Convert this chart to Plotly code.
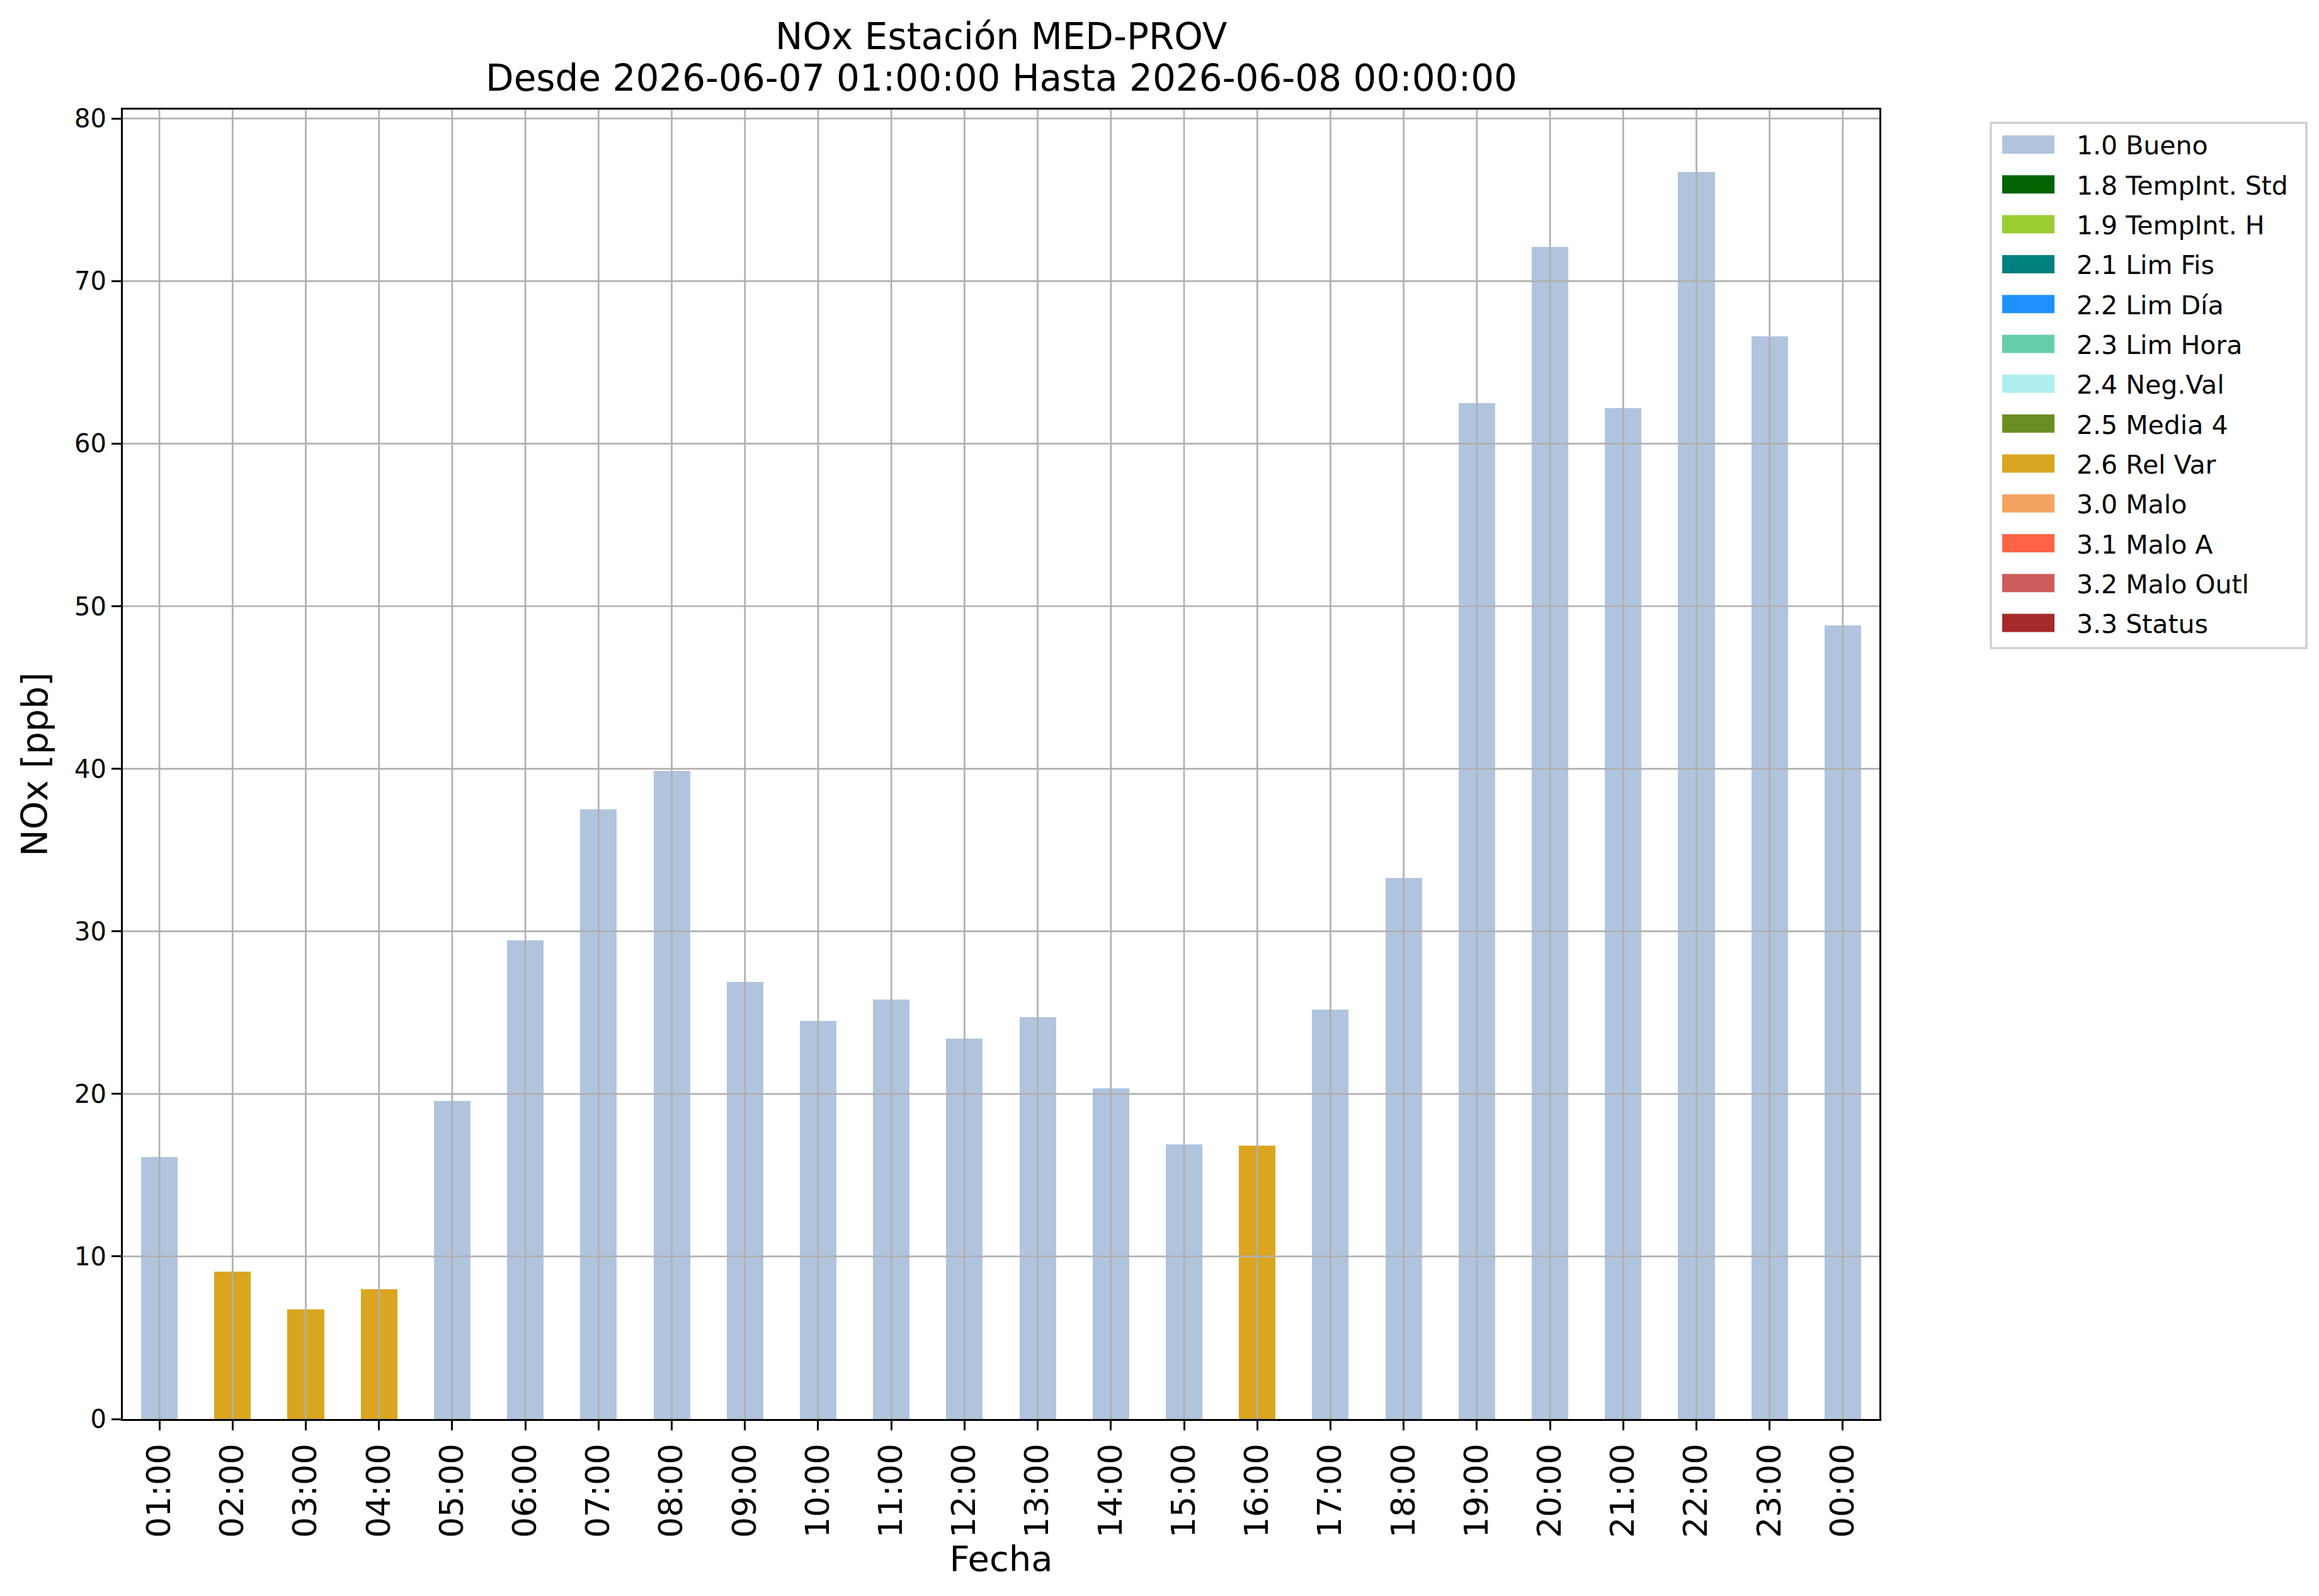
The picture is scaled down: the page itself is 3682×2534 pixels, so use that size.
import plotly.graph_objects as go

horas = ["01:00", "02:00", "03:00", "04:00", "05:00", "06:00", "07:00", "08:00",
	"09:00", "10:00", "11:00", "12:00", "13:00", "14:00", "15:00", "16:00",
	"17:00", "18:00", "19:00", "20:00", "21:00", "22:00", "23:00", "00:00"]
nox = [16.1, 9.05, 6.75, 8.0, 19.55, 29.45, 37.5, 39.85, 26.9, 24.5, 25.8, 23.4,
	24.7, 20.35, 16.9, 16.8, 25.2, 33.3, 62.5, 72.1, 62.2, 76.7, 66.6, 48.8]
flags = ["1.0 Bueno", "2.6 Rel Var", "2.6 Rel Var", "2.6 Rel Var", "1.0 Bueno", "1.0 Bueno",
	"1.0 Bueno", "1.0 Bueno", "1.0 Bueno", "1.0 Bueno", "1.0 Bueno", "1.0 Bueno",
	"1.0 Bueno", "1.0 Bueno", "1.0 Bueno", "2.6 Rel Var", "1.0 Bueno", "1.0 Bueno",
	"1.0 Bueno", "1.0 Bueno", "1.0 Bueno", "1.0 Bueno", "1.0 Bueno", "1.0 Bueno"]

etiquetas = ["1.0 Bueno", "1.8 TempInt. Std", "1.9 TempInt. H", "2.1 Lim Fis", "2.2 Lim Día",
	"2.3 Lim Hora", "2.4 Neg.Val", "2.5 Media 4", "2.6 Rel Var", "3.0 Malo", "3.1 Malo A",
	"3.2 Malo Outl", "3.3 Status"]
colores = ["lightsteelblue", "darkgreen", "yellowgreen", "teal", "dodgerblue",
	"mediumaquamarine", "paleturquoise", "olivedrab", "goldenrod", "sandybrown",
	"tomato", "indianred", "brown"]

yticks = [0, 10, 20, 30, 40, 50, 60, 70, 80]
titulo = ["NOx Estación MED-PROV", "Desde 2026-06-07 01:00:00 Hasta 2026-06-08 00:00:00"]

W, H = 3682, 2534
L, R, T, B = 187, 2976, 166, 2245
FONT = "DejaVu Sans"
GRID = "#b0b0b0"

def px(x):
	return (x - L) / (R - L)

def py(y):
	return (B - y) / (B - T)

fig = go.Figure()
for lab, col in zip(etiquetas, colores):
	xs = [h for h, f in zip(horas, flags) if f == lab]
	ys = [v for v, f in zip(nox, flags) if f == lab]
	fig.add_trace(go.Bar(x=xs, y=ys, name=lab, marker_color=col, marker_line_width=0,
		width=0.5, showlegend=False))

# grid over the bars, like matplotlib
for h in horas:
	fig.add_shape(type="line", xref="x", yref="paper", x0=h, x1=h, y0=0, y1=1,
		line=dict(color=GRID, width=2.7), layer="above")
for t in yticks[1:]:
	fig.add_shape(type="line", xref="paper", yref="y", x0=0, x1=1, y0=t, y1=t,
		line=dict(color=GRID, width=2.7), layer="above")

# legend box drawn by hand (matplotlib style rectangles)
fig.add_shape(type="rect", xref="paper", yref="paper", x0=px(3153), x1=px(3654),
	y0=py(1021), y1=py(187), line=dict(color="#d0d0d0", width=3.5), fillcolor="white")
for i, (lab, col) in enumerate(zip(etiquetas, colores)):
	yc = 221.5 + 63.3 * i
	fig.add_shape(type="rect", xref="paper", yref="paper", x0=px(3171), x1=px(3254),
		y0=py(yc + 14.5), y1=py(yc - 14.5), line_width=0, fillcolor=col)
	fig.add_annotation(text=lab, xref="paper", yref="paper", x=px(3287), y=py(yc + 2),
		xanchor="left", yanchor="middle", showarrow=False,
		font=dict(family=FONT, size=41, color="black"))

# two title lines
for txt, yc in zip(titulo, [50, 116]):
	fig.add_annotation(text=txt, xref="paper", yref="paper", x=0.5, y=py(yc),
		xanchor="center", yanchor="middle", showarrow=False,
		font=dict(family=FONT, size=58, color="black"))

fig.update_layout(
	width=W, height=H,
	margin=dict(l=L, r=W - R, t=T, b=H - B, pad=0),
	paper_bgcolor="white", plot_bgcolor="white",
	barmode="overlay", bargap=0,
	font=dict(family=FONT, color="black"),
)
fig.update_xaxes(type="category", categoryorder="array", categoryarray=horas,
	range=[-0.5, 23.5], showgrid=False, showline=True, linecolor="black", linewidth=3.3,
	mirror=True, ticks="outside", ticklen=15, tickwidth=3, tickcolor="black",
	tickangle=-90, tickfont=dict(family=FONT, size=52),
	title=dict(text="Fecha", font=dict(family=FONT, size=56), standoff=12))
fig.update_yaxes(range=[0, 80.55], tickvals=yticks, showgrid=False, zeroline=False,
	showline=True, linecolor="black", linewidth=3.3, mirror=True, ticks="outside",
	ticklen=15, tickwidth=3, tickcolor="black", tickfont=dict(family=FONT, size=40),
	title=dict(text="NOx [ppb]", font=dict(family=FONT, size=57), standoff=24))

fig.write_html("out.html")
